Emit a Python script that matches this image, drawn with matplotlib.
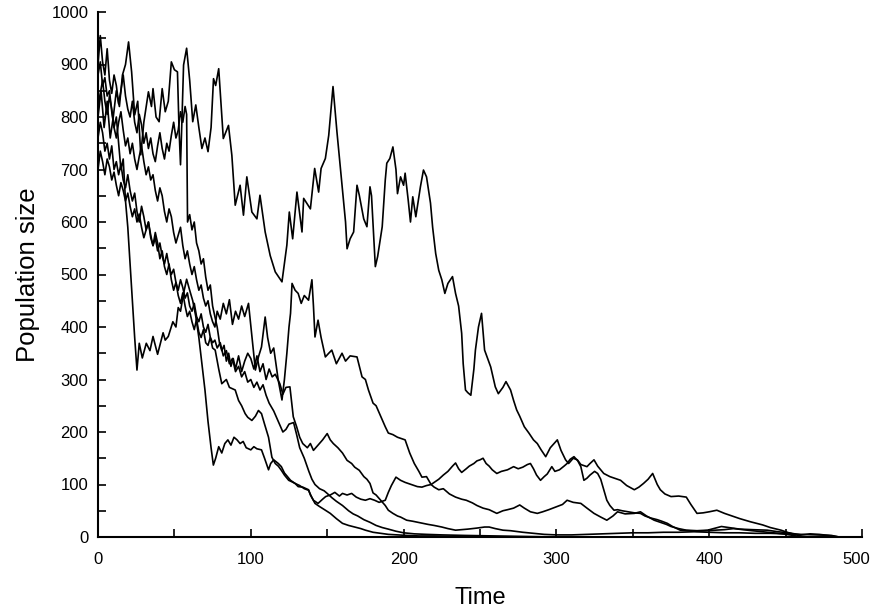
import matplotlib
matplotlib.use("Agg")
import matplotlib.pyplot as plt
import matplotlib.transforms as mtransforms
from matplotlib.ticker import MultipleLocator

# ---- data ----
t1 = [0, 2, 4, 6, 8, 10, 12, 14, 16, 18, 20, 22, 24, 26, 28, 30, 33, 35, 36, 38, 40, 42, 44, 46, 48, 50, 52, 53, 54, 55, 56, 58, 60, 62, 64, 66, 68, 70, 72, 74, 75.6, 77, 79, 82, 85.4, 87.6, 89.8, 93, 95.2, 97.4, 100.7, 104, 106, 109.4, 112.7, 116, 120.4, 123.6, 125.2, 127.4, 130.2, 133.5, 134.6, 139, 141.8, 144.4, 146, 148.8, 151, 153.8, 156.4, 159.7, 162, 163, 165, 167.3, 169.5, 171, 173.9, 176, 178, 179, 181.5, 183, 186, 188, 189, 191, 193, 195, 196, 198, 200, 201, 203, 204.5, 206, 208, 211, 213, 215, 217.6, 219, 221, 223, 225, 227, 229, 232, 234, 236, 238, 239, 240.5, 242, 244, 246, 247, 249, 251, 253, 255, 257, 260, 262, 265, 267, 270, 272, 274, 276, 279, 282, 285, 287.5, 290, 293, 296, 300.6, 303, 306, 308, 311, 313.7, 316, 320, 322, 324.6, 327, 331, 335, 338, 342, 346, 351, 354, 357, 360, 363, 366, 368, 371, 375, 380, 385, 388, 392, 396, 400, 405, 410, 416, 420, 427, 431, 435, 440, 447, 452, 457, 461, 465]
v1 = [800, 850, 780, 830, 760, 800, 850, 820, 880, 900, 943, 886, 804, 830, 728, 790, 848, 820, 854, 800, 791, 854, 810, 830, 905, 890, 886, 780, 709, 800, 899, 931, 870, 791, 823, 780, 740, 760, 734, 780, 873, 860, 892, 759, 784, 727, 632, 670, 613, 686, 619, 606, 651, 581, 536, 505, 486, 556, 619, 568, 657, 581, 645, 625, 702, 657, 702, 721, 765, 858, 771, 670, 600, 549, 568, 581, 670, 651, 606, 591, 667, 650, 515, 534, 591, 680, 712, 721, 743, 700, 654, 686, 670, 693, 642, 600, 648, 610, 667, 699, 686, 636, 590, 540, 508, 490, 464, 483, 496, 464, 440, 388, 330, 280, 275, 270, 320, 356, 400, 426, 356, 340, 324, 286, 273, 285, 296, 280, 260, 242, 230, 210, 198, 185, 178, 166, 153, 170, 185, 165, 147, 140, 150, 147, 138, 134, 140, 147, 135, 121, 115, 112, 108, 98, 90, 95, 102, 110, 121, 100, 90, 82, 77, 78, 76, 62, 45, 46, 48, 51, 45, 39, 35, 29, 26, 23, 18, 13, 8, 4, 1, 0]

t2 = [0, 1.5, 3, 4.5, 6, 7.5, 9, 10.5, 12, 13.5, 15, 16.5, 18, 19.5, 21, 22.5, 24, 25.5, 27, 28.5, 30, 31.5, 33, 34.5, 36, 37.5, 39, 40.5, 42, 43.5, 45, 46.5, 48, 49.5, 51, 52.5, 54, 55.5, 57, 58.5, 60, 61.5, 63, 64.5, 66, 67.5, 69, 70.5, 72, 73.5, 75,
      76.5, 78, 80, 82, 84, 86, 88, 90, 92, 94, 96, 98.5, 100.5, 103, 105, 107, 109.4, 111, 113, 115, 118, 120.4, 122, 123.6, 125, 126, 127, 129, 131, 133, 135, 137.8, 140, 141, 142, 144, 146, 148.8, 151, 153, 156, 159.7, 162, 165, 169.5, 172.8, 175, 177, 180, 182, 185, 188, 190, 193, 196, 201, 204, 207, 210, 212, 215, 218, 220, 223, 226, 230, 234, 238, 241, 245, 248, 252, 256, 261, 265, 268, 272, 276, 279, 283, 287.5, 291, 295, 300.5, 304, 307, 311, 316, 320, 324.6, 329, 333, 337, 340, 345, 351, 355, 359, 364, 368, 372, 375, 380, 385, 392, 399, 404, 408, 413, 420, 428, 438, 445, 452, 460, 466, 472, 478, 485]
v2 = [820, 845, 870, 830, 805, 840, 815, 780, 760, 790, 810, 775, 745, 760, 730, 750, 720, 700, 725, 745, 715, 690, 705, 680, 690, 660, 640, 665, 650, 620, 600, 625, 610, 580, 560, 575, 590, 555, 530, 545, 520, 500, 515, 490, 470, 480, 455, 440, 450, 425, 410,
      400, 430, 415, 445, 425, 452, 405, 430, 415, 440, 420, 445, 388, 318, 343, 362, 419, 380, 350, 360, 298, 261, 300, 350, 400, 426, 483, 470, 464, 445, 460, 451, 490, 440, 381, 413, 380, 343, 350, 356, 330, 350, 335, 345, 343, 305, 300, 280, 255, 250, 230, 210, 198, 195, 190, 185, 160, 140, 125, 114, 115, 100, 95, 90, 92, 82, 76, 72, 70, 65, 60, 55, 52, 45, 50, 52, 55, 61, 55, 48, 45, 48, 52, 58, 62, 70, 66, 64, 55, 45, 38, 32, 40, 48, 44, 45, 48, 40, 32, 28, 24, 20, 16, 13, 12, 13, 17, 20, 18, 15, 14, 13, 10, 8, 4, 6, 5, 3, 0]

t3 = [0, 1.5, 3, 4.5, 6, 7.5, 9, 10.5, 12, 13.5, 15, 16.5, 18, 19.5, 21, 22.5, 24, 25.5,
      27, 29, 31.6, 34, 36, 39, 42.6, 44, 46, 49, 51, 52.5, 54, 56, 58, 60, 62, 64, 66, 68, 70, 72, 74, 75.5, 77, 79, 81, 83, 85, 87, 89, 91, 93, 95, 97, 100, 102, 104, 107, 109, 111.6, 113, 115, 118, 120, 122, 124, 126, 129, 131, 134, 137.8, 139, 141, 144, 147, 149, 152, 155, 158, 160, 163, 166, 169, 172, 175, 178, 181, 184, 188, 190, 192, 195, 198, 201, 205, 209, 212, 215, 218, 221, 223, 226, 229, 232, 234, 236, 238, 241, 243, 246, 248, 250, 252, 254, 256, 258, 261, 264, 268, 272, 275, 278, 281, 283, 285, 287, 289.6, 292, 294, 297, 299, 302, 305, 307, 309, 311.5, 314, 316, 318, 320, 322, 325, 327, 329, 331, 333, 335, 337.7, 340, 343, 347, 351, 355, 358, 362, 366, 369, 372.6, 376, 381, 386, 392, 398, 403, 410, 416, 422, 428, 435, 442, 448, 455, 460]
v3 = [880, 905, 860, 875, 840, 850, 810, 780, 800, 750, 700, 720, 640, 590, 520, 450, 380, 318,
      369, 341, 369, 355, 382, 348, 389, 375, 382, 410, 400, 437, 430, 464, 491, 470, 450, 420, 380, 330, 280, 220, 170, 137, 150, 172, 160, 178, 185, 175, 190, 185, 178, 182, 170, 166, 172, 168, 166, 150, 128, 140, 147, 140, 134, 122, 115, 108, 102, 96, 95, 90, 80, 70, 64, 72, 77, 80, 85, 78, 83, 80, 83, 76, 72, 70, 73, 70, 66, 70, 85, 98, 114, 108, 104, 100, 96, 95, 98, 100, 106, 110, 118, 125, 135, 141, 130, 123, 130, 135, 140, 145, 147, 150, 140, 135, 128, 121, 125, 128, 134, 130, 133, 138, 140, 130, 118, 108, 115, 120, 134, 125, 128, 135, 140, 148, 153, 145, 134, 108, 112, 118, 125, 121, 110, 90, 70, 60, 51, 52, 50, 48, 46, 45, 40, 36, 33, 30, 26, 20, 13, 12, 11, 12, 13, 14, 16, 14, 12, 10, 8, 6, 3, 0]

t4 = [0, 1.5, 3, 4.5, 6, 7.5, 9, 10.5, 12, 13.5, 15, 16.5, 18, 19.5, 21, 22.5, 24, 25.5, 27, 28.5, 30, 31.5, 33, 34.5, 36, 37.5, 39, 40.5, 42, 43.5, 45, 46.5, 48, 49.5, 51, 52.5, 54, 55.5, 57,
      58, 58.6, 60, 61.5, 63, 64.5, 66, 67.5, 69, 70.5, 72, 73.5, 75, 76.5, 78, 79.5, 81, 82.5, 84, 85.5, 87, 88.5, 90, 92, 94, 96, 98, 100, 102, 104, 106, 108, 110, 112, 114, 116, 119, 121, 123, 125.6, 127.8, 130, 132, 134, 137, 139, 141, 144, 147, 150, 152, 154, 157, 160, 163, 166, 168, 171, 174, 176, 178, 180, 182, 185, 188, 190, 193, 196, 198, 202, 206, 211, 216, 220, 225, 229, 234, 238, 242, 248, 253, 256, 260, 265, 270, 278, 285, 292, 300, 310, 320, 330, 340, 350, 360, 370, 380, 390, 400, 410, 420, 430, 440, 450, 460, 470, 480, 485]
v4 = [900, 955, 905, 880, 930, 870, 845, 880, 860, 825, 850, 880, 840, 815, 800, 830, 790, 770, 805, 785, 750, 770, 740, 760, 730, 715, 745, 770, 740, 720, 750, 735, 765, 790, 760, 775, 810, 790, 820,
      805, 600, 614, 585, 600, 560, 545, 520, 530, 495, 470, 480, 440, 420, 400, 370, 355, 365, 335, 350, 325, 340, 320, 345, 315, 335, 350, 340, 320, 345, 315, 330, 300, 320, 305, 310, 292, 272, 285, 286, 229, 210, 190, 178, 170, 178, 165, 175, 185, 197, 185, 178, 170, 160, 146, 140, 133, 127, 115, 110, 102, 84, 80, 70, 60, 51, 45, 40, 38, 32, 30, 27, 24, 22, 19, 16, 13, 14, 15, 17, 19, 19, 16, 13, 12, 9, 7, 5, 4, 4, 5, 6, 7, 8, 8, 9, 9, 10, 9, 8, 8, 7, 7, 6, 5, 4, 3, 0]

t5 = [0, 1.5, 3, 4.5, 6, 7.5, 9, 10.5, 12, 13.5, 15, 16.5, 18, 19.5, 21, 22.5, 24, 25.5, 27, 28.5, 30, 31.5, 33, 34.5, 36, 37.5, 39, 40.5, 42, 43.5, 45, 46.5, 48, 49.5, 51, 52.5, 54, 55.5, 57, 58.5, 60, 61.5, 63, 64.5, 66, 67.5, 69, 70.5, 72, 73.5, 75,
      76.7, 79, 81, 84, 86, 89.8, 92, 94, 96.3, 98, 100.7, 103, 105, 107, 109, 111.6, 113.8, 116, 118, 120, 122, 124.8, 127, 129, 132, 135, 137.8, 140, 142, 145, 148.8, 152, 156, 160, 164, 168, 172, 175, 180, 185, 190, 196, 202, 210, 220, 235, 250]
v5 = [760, 790, 770, 735, 750, 720, 745, 700, 715, 690, 710, 680, 665, 690, 660, 640, 655, 620, 600, 630, 610, 585, 600, 570, 555, 580, 560, 530, 545, 515, 500, 520, 490, 470, 485, 460, 445, 465, 440, 420, 430, 410, 395, 415, 390, 380, 395, 370, 365, 380, 360,
      356, 320, 292, 300, 285, 280, 260, 250, 235, 228, 222, 230, 241, 235, 215, 190, 152, 140, 135, 127, 118, 108, 105, 102, 98, 92, 89, 75, 64, 58, 51, 45, 35, 26, 22, 19, 16, 13, 9, 7, 5, 4, 3, 2, 2, 1, 0]

t6 = [0, 1.5, 3, 4.5, 6, 7.5, 9, 10.5, 12, 13.5, 15, 16.5, 18, 19.5, 21, 22.5, 24, 25.5, 27, 28.5, 30, 31.5, 33, 34.5, 36, 37.5, 39, 40.5, 42, 43.5, 45, 46.5, 48, 49.5, 51, 52.5, 54, 55.5, 57, 58.5, 60, 61.5, 63, 64.5, 66, 67.5, 69, 70.5, 72, 73.5, 75,
      76.5, 78, 80, 82, 84, 86, 88, 90, 92, 94, 96, 98, 100, 102, 104, 106, 108, 110, 112, 115, 118, 121, 123, 125, 128, 130, 132, 135, 138, 140, 142, 145, 148, 150, 153, 156, 160, 164, 167, 170, 174, 178, 182, 186, 190, 195, 200, 207, 215, 225, 240, 260, 280, 300]
v6 = [700, 735, 715, 690, 720, 705, 680, 695, 670, 650, 675, 660, 640, 655, 630, 610, 625, 600, 615, 590, 570, 585, 600, 575, 555, 570, 545, 560, 535, 520, 540, 515, 500, 510, 485, 470, 490, 475, 455, 465, 440, 430, 445, 420, 410, 425, 400, 390, 405, 380, 370,
      375, 360, 370, 345, 355, 330, 340, 315, 325, 305, 315, 295, 300, 285, 295, 280, 290, 270, 255, 240, 220, 200, 205, 215, 218, 195, 170, 150, 125, 110, 100, 92, 88, 83, 75, 68, 60, 50, 44, 40, 33, 28, 22, 18, 15, 11, 8, 6, 5, 4, 3, 2, 1, 0]

x_ticks = [0, 100, 200, 300, 400, 500]
y_ticks = [0, 100, 200, 300, 400, 500, 600, 700, 800, 900, 1000]

plt.rcParams['font.family'] = ['Liberation Sans', 'DejaVu Sans']

fig = plt.figure(figsize=(8.74, 6.10), dpi=100)
ax = fig.add_axes([98 / 874, 73 / 610, 764 / 874, 525 / 610])

for t, v in [(t1, v1), (t2, v2), (t3, v3), (t4, v4), (t5, v5), (t6, v6)]:
    ax.plot(t, v, color='black', lw=1.2, solid_joinstyle='round')

ax.set_xlim(0, 500)
ax.set_ylim(0, 1000)
ax.set_xticks(x_ticks)
ax.set_yticks(y_ticks)
ax.xaxis.set_minor_locator(MultipleLocator(50))
ax.yaxis.set_minor_locator(MultipleLocator(50))
for s in ['top', 'right']:
    ax.spines[s].set_visible(False)
for s in ['left', 'bottom']:
    ax.spines[s].set_linewidth(1.5)
ax.tick_params(which='both', direction='in', length=6, width=1.2)
ax.tick_params(axis='x', which='major', pad=10.5, labelsize=12)
ax.tick_params(axis='y', which='major', pad=7, labelsize=12)
ax.set_xlabel('Time', fontsize=17, labelpad=15)
ax.set_ylabel('Population size', fontsize=18.5, labelpad=8)

# keep the last x tick label inside the canvas
fig.canvas.draw()
last = ax.get_xticklabels()[-1]
last.set_transform(last.get_transform() + mtransforms.ScaledTranslation(-4 / 72, 0, fig.dpi_scale_trans))

fig.savefig('out.png', dpi=100)
